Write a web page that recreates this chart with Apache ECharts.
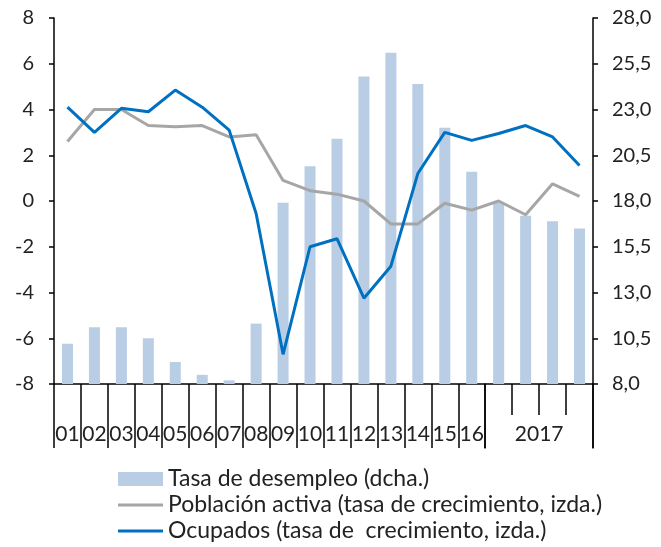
<!DOCTYPE html>
<html>
<head>
<meta charset="utf-8">
<script src="https://cdn.jsdelivr.net/npm/echarts@6/dist/echarts.min.js"></script>
<style>
  html, body { margin: 0; padding: 0; background: #fff; }
  #chart { width: 661px; height: 547px; }
</style>
</head>
<body>
<div id="chart"></div>
<script>
// periodos: 2001-2016 anual, 2017 trimestral
const periods = ['01', '02', '03', '04', '05', '06', '07', '08', '09', '10', '11', '12', '13', '14', '15', '16', '2017T1', '2017T2', '2017T3', '2017T4']
const xLabels = ['01', '02', '03', '04', '05', '06', '07', '08', '09', '10', '11', '12', '13', '14', '15', '16', '', '2017', '', '']
const desempleo = [10.2, 11.1, 11.1, 10.5, 9.2, 8.5, 8.2, 11.3, 17.9, 19.9, 21.4, 24.8, 26.1, 24.4, 22.0, 19.6, 17.9, 17.2, 16.9, 16.5]
const activa = [2.6, 4.0, 4.0, 3.3, 3.25, 3.3, 2.8, 2.9, 0.9, 0.45, 0.3, 0.0, -1.0, -1.0, -0.1, -0.4, 0.0, -0.6, 0.75, 0.2]
const ocupados = [4.1, 3.0, 4.05, 3.9, 4.85, 4.1, 3.1, -0.55, -6.7, -2.0, -1.65, -4.25, -2.85, 1.2, 3.0, 2.65, 2.95, 3.3, 2.8, 1.55]
const leftTicks = [-8, -6, -4, -2, 0, 2, 4, 6, 8]
const rightTicks = [8.0, 10.5, 13.0, 15.5, 18.0, 20.5, 23.0, 25.5, 28.0]

const names = ['Tasa de desempleo (dcha.)', 'Población activa (tasa de crecimiento, izda.)', 'Ocupados (tasa de  crecimiento, izda.)']
const font = 'Lato, "Noto Sans", sans-serif'
const lineIcon = 'path://M0,0H45V3H0Z'

const chart = echarts.init(document.getElementById('chart'))
const W = 661, H = 547
const plotL = 54, plotR = 593, plotB = 384
const nYears = 16
const nQuarters = periods.length - nYears
const split = plotL + (plotR - plotL) * nYears / periods.length  // fin de 2016
const gridBox = { left: plotL, right: W - plotR, top: 18, bottom: H - plotB }
const tickStyle = { color: '#000', width: 1.5 }

// eje auxiliar solo para los ticks
function tickAxis (gridIndex, max, interval, minor) {
  return {
    type: 'value',
    gridIndex: gridIndex,
    min: 0,
    max: max,
    interval: interval,
    axisLine: { show: false, onZero: false },
    axisTick: { show: true, length: 64, lineStyle: tickStyle },
    minorTick: minor ? { show: true, splitNumber: minor, length: 31, lineStyle: tickStyle } : { show: false },
    axisLabel: { show: false },
    splitLine: { show: false }
  }
}
function edgeAxis (gridIndex, position) {
  return {
    type: 'value',
    gridIndex: gridIndex,
    position: position,
    min: 0,
    max: 1,
    axisLine: { show: true, onZero: false, lineStyle: tickStyle },
    axisTick: { show: false },
    axisLabel: { show: false },
    splitLine: { show: false }
  }
}

const option = {
  animation: false,
  textStyle: { fontFamily: font },
  grid: [
    Object.assign({}, gridBox),
    Object.assign({}, gridBox, { right: W - split }),
    Object.assign({}, gridBox, { left: split }),
    // banda de ticks bajo el eje: lineas de 2016 y del final
    { left: split, right: W - plotR, top: plotB, bottom: H - plotB - 64 }
  ],
  legend: {
    orient: 'vertical',
    left: 118,
    top: 466,
    padding: 0,
    itemWidth: 45,
    itemHeight: 14,
    itemGap: 0,
    symbolKeepAspect: true,
    data: [
      { name: names[0], icon: 'rect' },
      { name: names[1], icon: lineIcon },
      { name: names[2], icon: lineIcon }
    ],
    textStyle: { fontSize: 23, color: '#222', lineHeight: 26, fontFamily: font }
  },
  xAxis: [
    {
      type: 'category',
      gridIndex: 0,
      data: periods,
      axisLine: { onZero: false, lineStyle: tickStyle },
      axisTick: { show: false },
      axisLabel: {
        interval: 0,
        margin: 40,
        fontSize: 21,
        color: '#222',
        formatter: function (v, i) { return i === 17 ? '{yr|' + xLabels[i] + '}' : xLabels[i] },
        rich: { yr: { fontSize: 21, color: '#222', padding: [0, 0, 0, 27] } }
      }
    },
    tickAxis(1, nYears, 1, 0),
    tickAxis(2, nQuarters, nQuarters, nQuarters),
    { type: 'value', gridIndex: 3, show: false, min: 0, max: 1 }
  ],
  yAxis: [
    {
      type: 'value',
      gridIndex: 0,
      min: leftTicks[0],
      max: leftTicks[leftTicks.length - 1],
      interval: 2,
      splitLine: { show: false },
      axisLine: { show: true, lineStyle: tickStyle },
      axisTick: { show: true, length: 5, lineStyle: tickStyle },
      axisLabel: { fontSize: 20, color: '#222', margin: 20 }
    },
    {
      type: 'value',
      gridIndex: 0,
      position: 'right',
      min: rightTicks[0],
      max: rightTicks[rightTicks.length - 1],
      interval: 2.5,
      splitLine: { show: false },
      axisLine: { show: true, lineStyle: tickStyle },
      axisTick: { show: true, length: 5, lineStyle: tickStyle },
      axisLabel: {
        fontSize: 20,
        color: '#222',
        margin: 19,
        formatter: function (v) { return v.toFixed(1).replace('.', ',') }
      }
    },
    { type: 'value', gridIndex: 1, show: false, min: 0, max: 1 },
    { type: 'value', gridIndex: 2, show: false, min: 0, max: 1 },
    edgeAxis(3, 'left'),
    edgeAxis(3, 'right')
  ],
  series: [
    {
      name: names[0],
      type: 'bar',
      xAxisIndex: 0,
      yAxisIndex: 1,
      data: desempleo,
      barWidth: 11,
      itemStyle: { color: '#b9cde5' }
    },
    {
      name: names[1],
      type: 'line',
      xAxisIndex: 0,
      yAxisIndex: 0,
      data: activa,
      symbol: 'none',
      z: 3,
      lineStyle: { color: '#a6a6a6', width: 3 },
      itemStyle: { color: '#a6a6a6' }
    },
    {
      name: names[2],
      type: 'line',
      xAxisIndex: 0,
      yAxisIndex: 0,
      data: ocupados,
      symbol: 'none',
      z: 4,
      lineStyle: { color: '#0070c0', width: 3 },
      itemStyle: { color: '#0070c0' }
    }
  ]
}

chart.setOption(option)
</script>
</body>
</html>
